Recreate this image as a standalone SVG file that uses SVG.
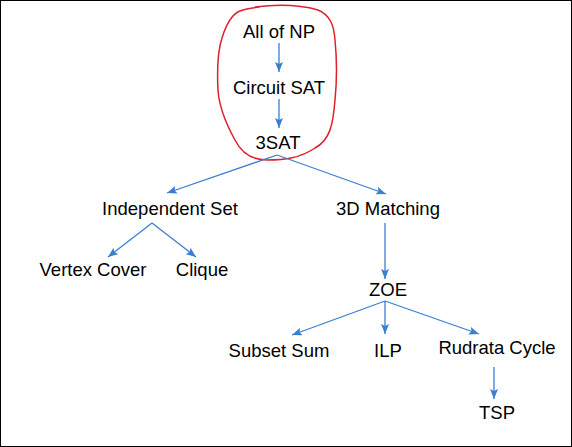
<svg xmlns="http://www.w3.org/2000/svg" width="572" height="447" viewBox="0 0 572 447">
<defs>
<marker id="ah" markerWidth="10" markerHeight="8" refX="10" refY="4" orient="auto" markerUnits="userSpaceOnUse">
<path d="M0,0 L10,4 L0,8 L2,4 Z" fill="#3a7fd3"/>
</marker>
<style>
text{font-family:"Liberation Sans",Arial,sans-serif;font-size:18.5px;fill:#000;text-anchor:middle}
.e{stroke:#3a7fd3;stroke-width:1.3;fill:none;marker-end:url(#ah)}
</style>
</defs>
<rect x="0.5" y="0.5" width="571" height="446" fill="#fff" stroke="#000" stroke-width="1"/>
<path d="M255,7 C280,4 300,5 318,10 C330,15 334,25 335,40 C337,60 337,80 335,100 C333,125 330,140 315,148 C300,158 285,160 267,160 C250,160 240,150 235,140 C225,122 219,105 218,90 C217,70 218,50 222,38 C226,25 232,14 240,11 C245,9 250,8 260,7" fill="none" stroke="#e0202a" stroke-width="1.5"/>
<g id="connectors">
<line class="e" x1="279" y1="43" x2="279" y2="72"/>
<line class="e" x1="279" y1="99" x2="279" y2="128"/>
<line class="e" x1="277" y1="155" x2="167" y2="193"/>
<line class="e" x1="277" y1="155" x2="386" y2="194"/>
<line class="e" x1="152" y1="223" x2="108" y2="257"/>
<line class="e" x1="152" y1="223" x2="196" y2="257"/>
<line class="e" x1="385" y1="223" x2="385" y2="279"/>
<line class="e" x1="385" y1="301" x2="292" y2="335"/>
<line class="e" x1="385" y1="301" x2="385" y2="334"/>
<line class="e" x1="385" y1="301" x2="479" y2="334"/>
<line class="e" x1="494" y1="367" x2="494" y2="399"/>
</g>
<g id="allnp"><text x="279" y="38">All of NP</text></g>
<g id="circuitsat"><text x="279" y="94">Circuit SAT</text></g>
<g id="threesat"><text x="278" y="149">3SAT</text></g>
<g id="indset"><text x="170" y="215">Independent Set</text></g>
<g id="vc"><text x="93" y="276">Vertex Cover</text></g>
<g id="clique"><text x="202" y="276">Clique</text></g>
<g id="3dm"><text x="388" y="215">3D Matching</text></g>
<g id="zoe"><text x="388" y="296">ZOE</text></g>
<g id="subsetsum"><text x="279" y="357">Subset Sum</text></g>
<g id="ilp"><text x="388" y="357">ILP</text></g>
<g id="rudrata"><text x="497" y="354">Rudrata Cycle</text></g>
<g id="tsp"><text x="497" y="419">TSP</text></g>
</svg>
